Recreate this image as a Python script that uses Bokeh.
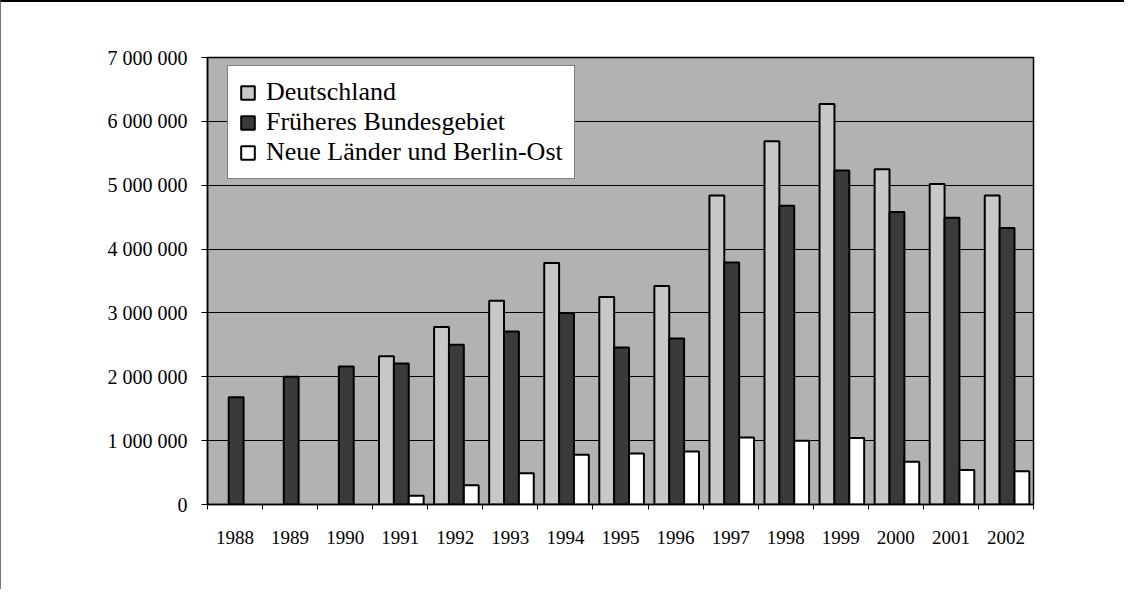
import numpy as np
from bokeh.plotting import figure
from bokeh.models import FixedTicker, Legend, LegendItem
from bokeh.embed import file_html
from bokeh.resources import INLINE

years = ["1988", "1989", "1990", "1991", "1992", "1993", "1994", "1995",
         "1996", "1997", "1998", "1999", "2000", "2001", "2002"]
deutschland = [np.nan, np.nan, np.nan, 2320000, 2780000, 3190000, 3780000, 3250000,
               3420000, 4840000, 5690000, 6270000, 5250000, 5020000, 4840000]
frueheres = [1680000, 2000000, 2160000, 2210000, 2500000, 2710000, 3000000, 2460000,
             2600000, 3790000, 4680000, 5230000, 4580000, 4490000, 4330000]
neue = [np.nan, np.nan, np.nan, 136000, 300000, 490000, 780000, 800000,
        830000, 1050000, 1000000, 1040000, 670000, 540000, 520000]
series_names = ["Deutschland", "Früheres Bundesgebiet", "Neue Länder und Berlin-Ost"]
y_ticks = [0, 1000000, 2000000, 3000000, 4000000, 5000000, 6000000, 7000000]
y_tick_labels = ["0", "1 000 000", "2 000 000", "3 000 000", "4 000 000",
                 "5 000 000", "6 000 000", "7 000 000"]

FONT = "Liberation Serif"
idx = np.arange(len(years))

p = figure(width=1124, height=589, x_range=(0, len(years)), y_range=(0, 7000000),
           output_backend="svg", toolbar_location=None,
           min_border_left=206, min_border_right=92, min_border_top=55, min_border_bottom=87)
p.styles = {"border-top": "2px solid black", "border-left": "1px solid #777"}

p.background_fill_color = "#b2b2b2"
p.border_fill_color = "white"
p.outline_line_color = "black"
p.outline_line_width = 1.5

offsets = [0.25, 0.52, 0.79]
fills = ["#c8c8c8", "#3a3a3a", "white"]
data = [deutschland, frueheres, neue]
renderers = []
for vals, off, fc in zip(data, offsets, fills):
    r = p.vbar(x=idx + off, top=vals, bottom=0, width=0.27,
               fill_color=fc, line_color="black", line_width=2)
    renderers.append(r)

# axes
p.xaxis.ticker = FixedTicker(ticks=list(idx + 0.5), minor_ticks=list(range(len(years) + 1)))
p.xaxis.major_label_overrides = {float(i + 0.5): y for i, y in zip(idx, years)}
p.xaxis.major_tick_line_color = None
p.xaxis.minor_tick_line_color = "black"
p.xaxis.minor_tick_in = 0
p.xaxis.minor_tick_out = 5
p.xaxis.axis_line_color = "black"
p.xaxis.axis_line_width = 1.5
p.xaxis.major_label_text_font = FONT
p.xaxis.major_label_text_font_size = "19px"
p.xaxis.major_label_text_color = "black"
p.xaxis.major_label_standoff = 20

p.yaxis.ticker = FixedTicker(ticks=y_ticks, minor_ticks=[])
p.yaxis.major_label_overrides = {t: l for t, l in zip(y_ticks, y_tick_labels)}
p.yaxis.major_tick_in = 0
p.yaxis.major_tick_out = 6
p.yaxis.major_tick_line_color = "black"
p.yaxis.axis_line_color = "black"
p.yaxis.axis_line_width = 1.5
p.yaxis.major_label_text_font = FONT
p.yaxis.major_label_text_font_size = "20px"
p.yaxis.major_label_text_color = "black"
p.yaxis.major_label_standoff = 14

p.xgrid.grid_line_color = None
p.ygrid.grid_line_color = "black"
p.ygrid.grid_line_width = 1

legend = Legend(items=[LegendItem(label=n, renderers=[r]) for n, r in zip(series_names, renderers)],
                location=(20, 325))
legend.label_text_font = FONT
legend.label_text_font_size = "26px"
legend.label_text_color = "black"
legend.glyph_width = 17
legend.glyph_height = 17
legend.label_height = 29
legend.label_standoff = 10
legend.spacing = 0
legend.padding = 11
legend.margin = 0
legend.border_line_color = "black"
legend.border_line_width = 1.5
legend.background_fill_color = "white"
legend.background_fill_alpha = 1
p.add_layout(legend, "center")

open("out.html", "w").write(file_html(p, INLINE))
